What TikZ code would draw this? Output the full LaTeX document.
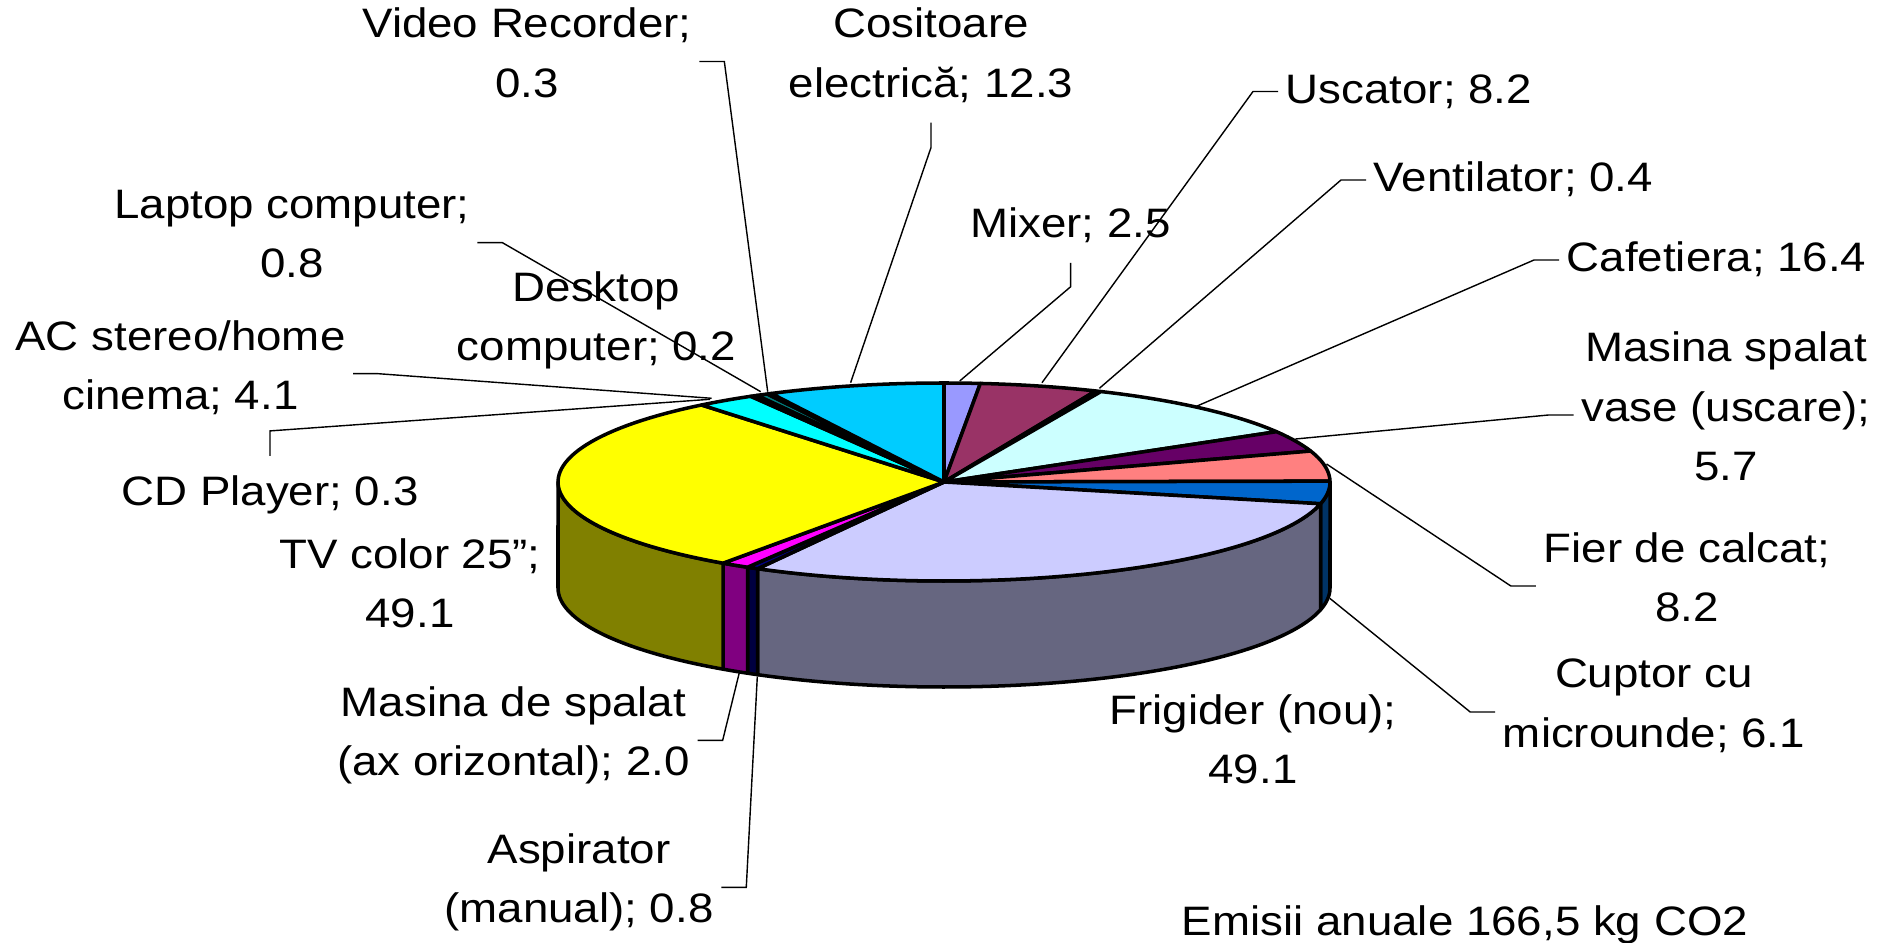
\documentclass[tikz,border=0pt]{standalone}
\usepackage{fontspec}
\setmainfont{Liberation Sans}[FakeStretch=1.11]
\usepackage{xcolor}
\usepackage{tikz}

\definecolor{cMixer}{HTML}{9999FF}
\definecolor{cUscator}{HTML}{993366}
\definecolor{cVentilator}{HTML}{FFFFCC}
\definecolor{cCafetiera}{HTML}{CCFFFF}
\definecolor{cVase}{HTML}{660066}
\definecolor{cFier}{HTML}{FF8080}
\definecolor{cCuptor}{HTML}{0066CC}
\definecolor{cFrigider}{HTML}{CCCCFF}
\definecolor{cAspirator}{HTML}{000080}
\definecolor{cSpalat}{HTML}{FF00FF}
\definecolor{cTV}{HTML}{FFFF00}
\definecolor{cStereo}{HTML}{00FFFF}
\definecolor{cCD}{HTML}{800080}
\definecolor{cDesktop}{HTML}{800000}
\definecolor{cLaptop}{HTML}{008080}
\definecolor{cVCR}{HTML}{0000FF}
\definecolor{cCositoare}{HTML}{00CCFF}

\begin{document}
\begin{tikzpicture}[x=0.01cm, y=-0.01cm, samples=60,
    slice/.style={draw=black, line width=1pt, line join=round},
    lbl/.style={font=\fontsize{11.7}{16.8}\selectfont, align=center, inner sep=2pt,
      execute at begin node=\strut, execute at end node=\strut},
    leader/.style={draw=black, line width=0.4pt}]
      \useasboundingbox (0,0) rectangle (1890,943);

      % side of the pie (front half only)
      \filldraw[slice, fill=cCuptor!50!black] plot[domain=90:102.703] ({944+386*sin(\x)},{482-99*cos(\x)})
        -- plot[domain=102.703:90] ({944+386*sin(\x)},{588-99*cos(\x)}) -- cycle;
      \filldraw[slice, fill=cFrigider!50!black] plot[domain=102.703:208.865] ({944+386*sin(\x)},{482-99*cos(\x)})
        -- plot[domain=208.865:102.703] ({944+386*sin(\x)},{588-99*cos(\x)}) -- cycle;
      \filldraw[slice, fill=cAspirator!50!black] plot[domain=208.865:210.595] ({944+386*sin(\x)},{482-99*cos(\x)})
        -- plot[domain=210.595:208.865] ({944+386*sin(\x)},{588-99*cos(\x)}) -- cycle;
      \filldraw[slice, fill=cSpalat!50!black] plot[domain=210.595:214.919] ({944+386*sin(\x)},{482-99*cos(\x)})
        -- plot[domain=214.919:210.595] ({944+386*sin(\x)},{588-99*cos(\x)}) -- cycle;
      \filldraw[slice, fill=cTV!50!black] plot[domain=214.919:270] ({944+386*sin(\x)},{482-99*cos(\x)})
        -- plot[domain=270:214.919] ({944+386*sin(\x)},{588-99*cos(\x)}) -- cycle;

      % top of the pie
      \filldraw[slice, fill=cMixer] (944,482) -- plot[domain=0:5.405] ({944+386*sin(\x)},{482-99*cos(\x)}) -- cycle;
      \filldraw[slice, fill=cUscator] (944,482) -- plot[domain=5.405:23.135] ({944+386*sin(\x)},{482-99*cos(\x)}) -- cycle;
      \filldraw[slice, fill=cVentilator] (944,482) -- plot[domain=23.135:24] ({944+386*sin(\x)},{482-99*cos(\x)}) -- cycle;
      \filldraw[slice, fill=cCafetiera] (944,482) -- plot[domain=24:59.459] ({944+386*sin(\x)},{482-99*cos(\x)}) -- cycle;
      \filldraw[slice, fill=cVase] (944,482) -- plot[domain=59.459:71.784] ({944+386*sin(\x)},{482-99*cos(\x)}) -- cycle;
      \filldraw[slice, fill=cFier] (944,482) -- plot[domain=71.784:89.514] ({944+386*sin(\x)},{482-99*cos(\x)}) -- cycle;
      \filldraw[slice, fill=cCuptor] (944,482) -- plot[domain=89.514:102.703] ({944+386*sin(\x)},{482-99*cos(\x)}) -- cycle;
      \filldraw[slice, fill=cFrigider] (944,482) -- plot[domain=102.703:208.865] ({944+386*sin(\x)},{482-99*cos(\x)}) -- cycle;
      \filldraw[slice, fill=cAspirator] (944,482) -- plot[domain=208.865:210.595] ({944+386*sin(\x)},{482-99*cos(\x)}) -- cycle;
      \filldraw[slice, fill=cSpalat] (944,482) -- plot[domain=210.595:214.919] ({944+386*sin(\x)},{482-99*cos(\x)}) -- cycle;
      \filldraw[slice, fill=cTV] (944,482) -- plot[domain=214.919:321.081] ({944+386*sin(\x)},{482-99*cos(\x)}) -- cycle;
      \filldraw[slice, fill=cStereo] (944,482) -- plot[domain=321.081:329.946] ({944+386*sin(\x)},{482-99*cos(\x)}) -- cycle;
      \filldraw[slice, fill=cCD] (944,482) -- plot[domain=329.946:330.595] ({944+386*sin(\x)},{482-99*cos(\x)}) -- cycle;
      \filldraw[slice, fill=cDesktop] (944,482) -- plot[domain=330.595:331.027] ({944+386*sin(\x)},{482-99*cos(\x)}) -- cycle;
      \filldraw[slice, fill=cLaptop] (944,482) -- plot[domain=331.027:332.757] ({944+386*sin(\x)},{482-99*cos(\x)}) -- cycle;
      \filldraw[slice, fill=cVCR] (944,482) -- plot[domain=332.757:333.405] ({944+386*sin(\x)},{482-99*cos(\x)}) -- cycle;
      \filldraw[slice, fill=cCositoare] (944,482) -- plot[domain=333.405:360] ({944+386*sin(\x)},{482-99*cos(\x)}) -- cycle;

      % where the leaders touch the pie
      \coordinate (vcr-end) at (767.7,391.7);
      \coordinate (laptop-end) at (760.7,391.7);
      \coordinate (stereo-end) at (711.7,398.3);
      \coordinate (cd-end) at (710,399.3);
      \coordinate (cositoare-end) at (850.6,382.7);
      \coordinate (mixer-end) at (959.7,381);
      \coordinate (uscator-end) at (1042,382.7);
      \coordinate (ventilator-end) at (1099.4,388.3);
      \coordinate (cafetiera-end) at (1196,406.5);
      \coordinate (vase-end) at (1295.5,439);
      \coordinate (fier-end) at (1326.5,464);
      \coordinate (cuptor-end) at (1330,598.5);
      \coordinate (spalat-end) at (739.3,672.7);
      \coordinate (aspirator-end) at (757.3,676.7);

      \node[lbl] (vcr) at (527,61.5) {Video Recorder;\\0.3};
      \node[lbl] (cositoare) at (931,61.5) {Cositoare\\electrică; 12.3};
      \node[lbl] (mixer) at (1070.6,225.5) {Mixer; 2.5};
      \node[lbl, anchor=west] (uscator) at (1278,91.5) {Uscator; 8.2};
      \node[lbl, anchor=west] (ventilator) at (1366,180) {Ventilator; 0.4};
      \node[lbl, anchor=west] (cafetiera) at (1559,260) {Cafetiera; 16.4};
      \node[lbl] (vase) at (1726,415) {Masina spalat\\vase (uscare);\\5.7};
      \node[lbl] (fier) at (1687,586) {Fier de calcat;\\8.2};
      \node[lbl] (cuptor) at (1654,712) {Cuptor cu\\microunde; 6.1};
      \node[lbl] (frigider) at (1253,747.7) {Frigider (nou);\\49.1};
      \node[lbl] (aspirator) at (579,887.4) {Aspirator\\(manual); 0.8};
      \node[lbl] (spalat) at (513.5,740.4) {Masina de spalat\\(ax orizontal); 2.0};
      \node[lbl] (tv) at (410,592.2) {TV color 25”;\\49.1};
      \node[lbl] (cd) at (270,493.2) {CD Player; 0.3};
      \node[lbl] (stereo) at (180.5,373.7) {AC stereo/home\\cinema; 4.1};
      \node[lbl] (laptop) at (292,242.7) {Laptop computer;\\0.8};
      \node[lbl] (desktop) at (596.5,325.2) {Desktop\\computer; 0.2};
      \node[lbl] (emisii) at (1465,923.2) {Emisii anuale 166,5 kg CO2};

      \draw[leader] (vcr.east) -- ++(25,0) -- (vcr-end);
      \draw[leader] (laptop.east) -- ++(25,0) -- (laptop-end);
      \draw[leader] (stereo.east) -- ++(25,0) -- (stereo-end);
      \draw[leader] (cd.north) -- ++(0,-25) -- (cd-end);
      \draw[leader] (cositoare.south) -- ++(0,25) -- (cositoare-end);
      \draw[leader] (mixer.south) -- ++(0,24) -- (mixer-end);
      \draw[leader] (uscator.west) -- ++(-25,0) -- (uscator-end);
      \draw[leader] (ventilator.west) -- ++(-25,0) -- (ventilator-end);
      \draw[leader] (cafetiera.west) -- ++(-25,0) -- (cafetiera-end);
      \draw[leader] (vase.west) -- ++(-25,0) -- (vase-end);
      \draw[leader] (fier.west) -- ++(-25,0) -- (fier-end);
      \draw[leader] (cuptor.west) -- ++(-25,0) -- (cuptor-end);
      \draw[leader] (spalat.east) -- ++(25,0) -- (spalat-end);
      \draw[leader] (aspirator.east) -- ++(25,0) -- (aspirator-end);
    \end{tikzpicture}
\end{document}
